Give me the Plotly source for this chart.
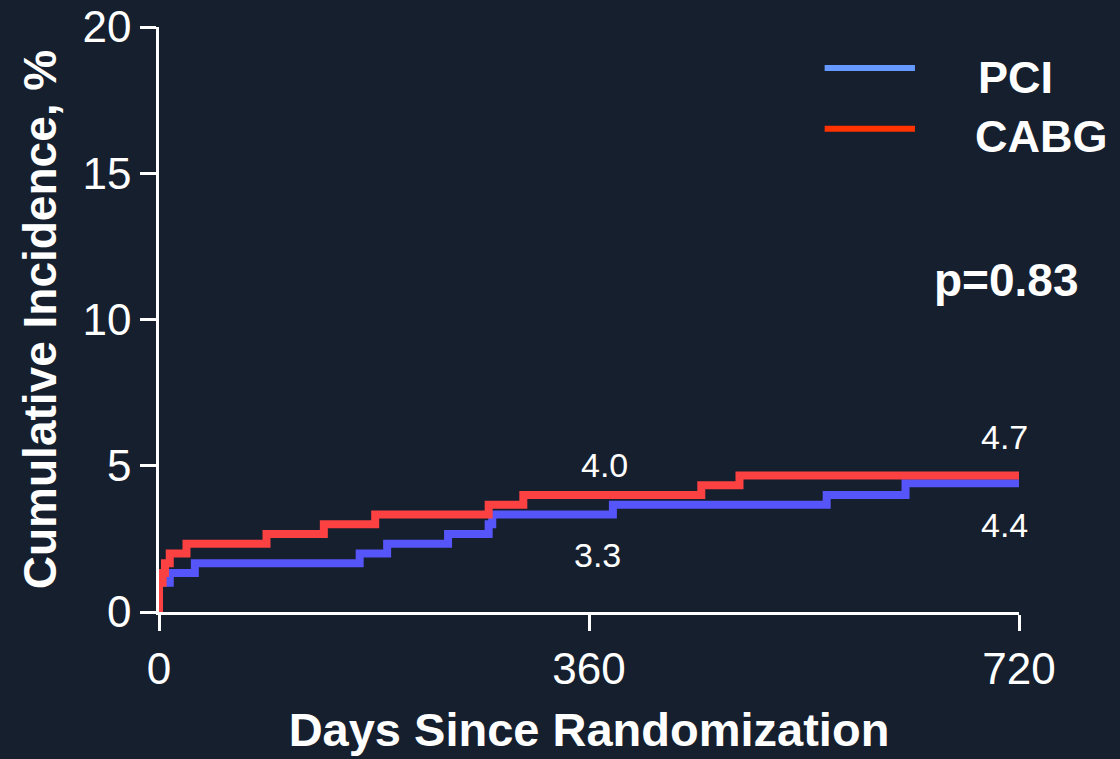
import plotly.graph_objects as go

# Data
cabg_days = [0, 0, 3, 5, 9, 23, 90, 138, 181, 276, 305, 454, 486, 720]
cabg_pct = [0, 1.0, 1.33, 1.67, 2.0, 2.33, 2.67, 3.0, 3.33, 3.67, 4.0, 4.33, 4.67, 4.67]
pci_days = [0, 0, 9, 30, 168, 191, 242, 276, 279, 380, 559, 625, 720]
pci_pct = [0, 1.0, 1.33, 1.67, 2.0, 2.33, 2.67, 3.0, 3.33, 3.67, 4.0, 4.4, 4.4]

x_ticks = [0, 360, 720]
y_ticks = [0, 5, 10, 15, 20]

# value labels: (text, day, pct)
value_labels = [("4.0", 373, 5.03), ("3.3", 367, 1.95), ("4.7", 708, 5.98), ("4.4", 708, 2.97)]

BG = "#161f2e"
BLUE = "#5555fa"
RED = "#fb4141"
FONT = "Liberation Sans, Arial, sans-serif"

fig = go.Figure()
fig.add_trace(go.Scatter(x=pci_days, y=pci_pct, mode="lines", line_shape="hv",
                         line=dict(color=BLUE, width=8), name="PCI", showlegend=False))
fig.add_trace(go.Scatter(x=cabg_days, y=cabg_pct, mode="lines", line_shape="hv",
                         line=dict(color=RED, width=8), name="CABG", showlegend=False))

for txt, xd, yd in value_labels:
    fig.add_annotation(x=xd, y=yd, xref="x", yref="y", text=txt, showarrow=False,
                       xanchor="center", yanchor="middle",
                       font=dict(family=FONT, size=34, color="white"))

# manual legend
fig.add_shape(type="line", xref="paper", yref="paper", x0=0.774, x1=0.879, y0=0.930, y1=0.930,
              line=dict(color="#6699ff", width=6))
fig.add_shape(type="line", xref="paper", yref="paper", x0=0.774, x1=0.879, y0=0.826, y1=0.826,
              line=dict(color="#ff3300", width=6))
fig.add_annotation(xref="paper", yref="paper", x=0.950, y=0.913, xanchor="left", yanchor="middle",
                   text="<b>PCI</b>", showarrow=False, font=dict(family=FONT, size=45, color="white"))
fig.add_annotation(xref="paper", yref="paper", x=0.946, y=0.812, xanchor="left", yanchor="middle",
                   text="<b>CABG</b>", showarrow=False, font=dict(family=FONT, size=45, color="white"))
fig.add_annotation(xref="paper", yref="paper", x=0.986, y=0.568, xanchor="center", yanchor="middle",
                   text="<b>p=0.83</b>", showarrow=False, font=dict(family=FONT, size=46, color="white"))

fig.update_layout(
    width=1120, height=759,
    paper_bgcolor=BG, plot_bgcolor=BG,
    margin=dict(l=159, r=101, t=27, b=147),
    font=dict(family=FONT, color="white"),
    showlegend=False,
    xaxis=dict(range=[0, 720], tickvals=x_ticks, ticktext=[str(v) for v in x_ticks],
               automargin=False,
               showgrid=False, zeroline=False, showline=True, linecolor="white", linewidth=2.5,
               ticks="outside", ticklen=16, tickwidth=2.5, tickcolor="white",
               tickfont=dict(family=FONT, size=44, color="white"),
               title=dict(text="<b>Days Since Randomization</b>", standoff=22,
                          font=dict(family=FONT, size=47, color="white"))),
    yaxis=dict(range=[0, 20], tickvals=y_ticks, ticktext=[str(v) for v in y_ticks],
               automargin=False,
               showgrid=False, zeroline=False, showline=True, linecolor="white", linewidth=2.5,
               ticks="outside", ticklen=16, tickwidth=2.5, tickcolor="white",
               tickfont=dict(family=FONT, size=44, color="white"),
               title=dict(text="<b>Cumulative Incidence, %</b>", standoff=12,
                          font=dict(family=FONT, size=46, color="white"))),
)

fig.write_html("out.html", config={"displayModeBar": False},
               post_script="document.body.style.margin='0';document.body.style.background='%s';" % BG)
